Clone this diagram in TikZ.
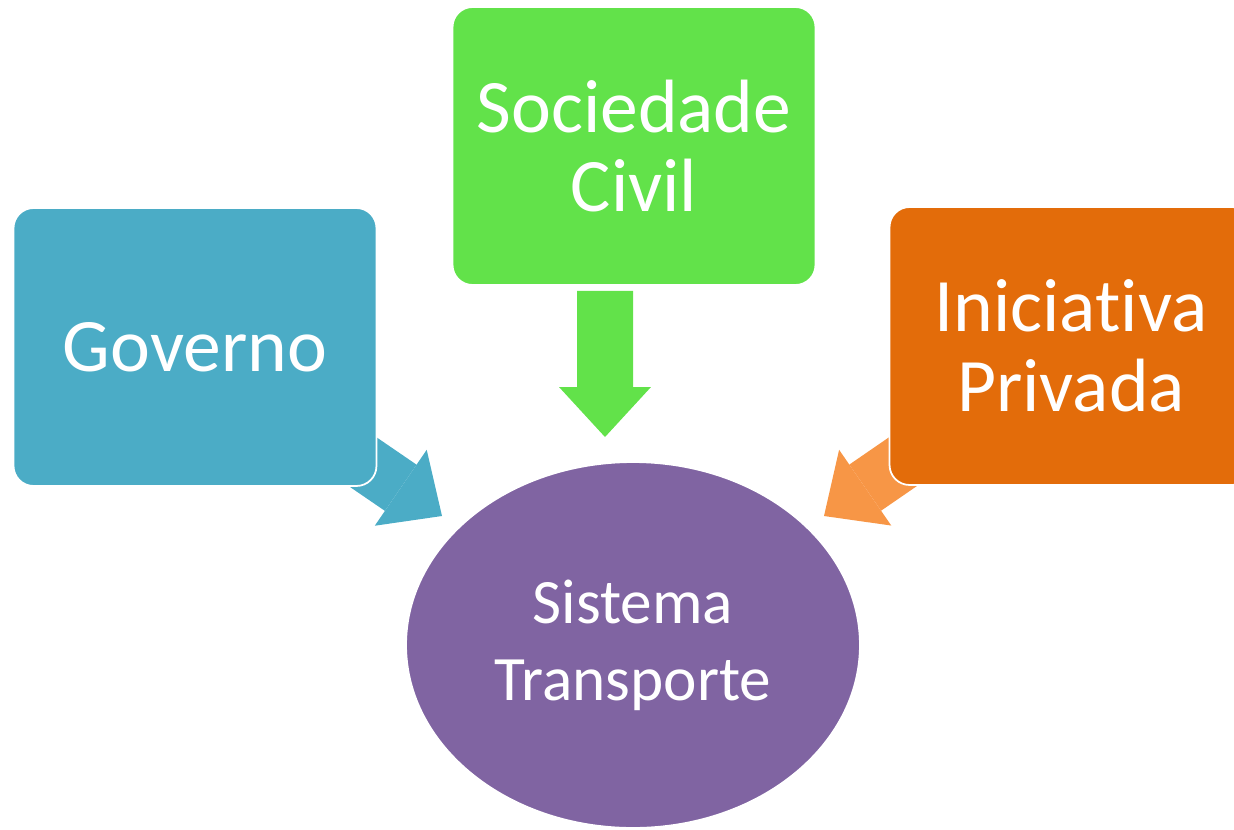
\documentclass[tikz,border=0pt]{standalone}
\usepackage{fontspec}
\setmainfont[Ligatures=NoCommon]{Carlito}
\usetikzlibrary{arrows.meta,shapes.geometric,backgrounds}

\definecolor{govblue}{HTML}{4BACC6}
\definecolor{socgreen}{HTML}{62E24A}
\definecolor{iniorange}{HTML}{E36C0A}
\definecolor{inilight}{HTML}{F79646}
\definecolor{sispurple}{HTML}{8064A2}

\tikzset{
  box/.style={rectangle, rounded corners=0.4cm, draw=white, line width=1pt, text=white, align=center,
    minimum width=7.26cm, minimum height=5.56cm, font=\fontsize{43}{45.5}\selectfont},
  blockarrow/.style={line width=1.12cm, -{Triangle[length=1cm,width=1.84cm,line width=0pt]}},
}

\begin{document}
\begin{tikzpicture}[x=0.02cm,y=-0.02cm]
   \clip (0,0) rectangle (1234,829);

   % Define nodes
   \node[box, fill=govblue] (gov) at (195,347) {Governo};
   \node[box, fill=socgreen] (soc) at (634,146) {Sociedade\\Civil};
   \node[box, fill=iniorange] (ini) at (1071,346) {Iniciativa\\Privada};
   \node[ellipse, fill=sispurple, draw=white, line width=1pt, text=white, align=center,
     minimum width=9.08cm, minimum height=7.32cm, font=\fontsize{36}{43.8}\selectfont] (sis) at (633,645) {Sistema\\Transporte};

   \coordinate (govtip) at (442,516);
   \coordinate (soctip) at (605,437);
   \coordinate (initip) at (824,516);

   % Draw arrows
   \begin{pgfonlayer}{background}
     \draw[blockarrow, govblue] (gov.center) -- (govtip);
     \draw[blockarrow, socgreen] ([xshift=-0.58cm, yshift=-0.1cm]soc.south) -- (soctip);
     \draw[blockarrow, inilight] (ini.center) -- (initip);
   \end{pgfonlayer}
\end{tikzpicture}
\end{document}
